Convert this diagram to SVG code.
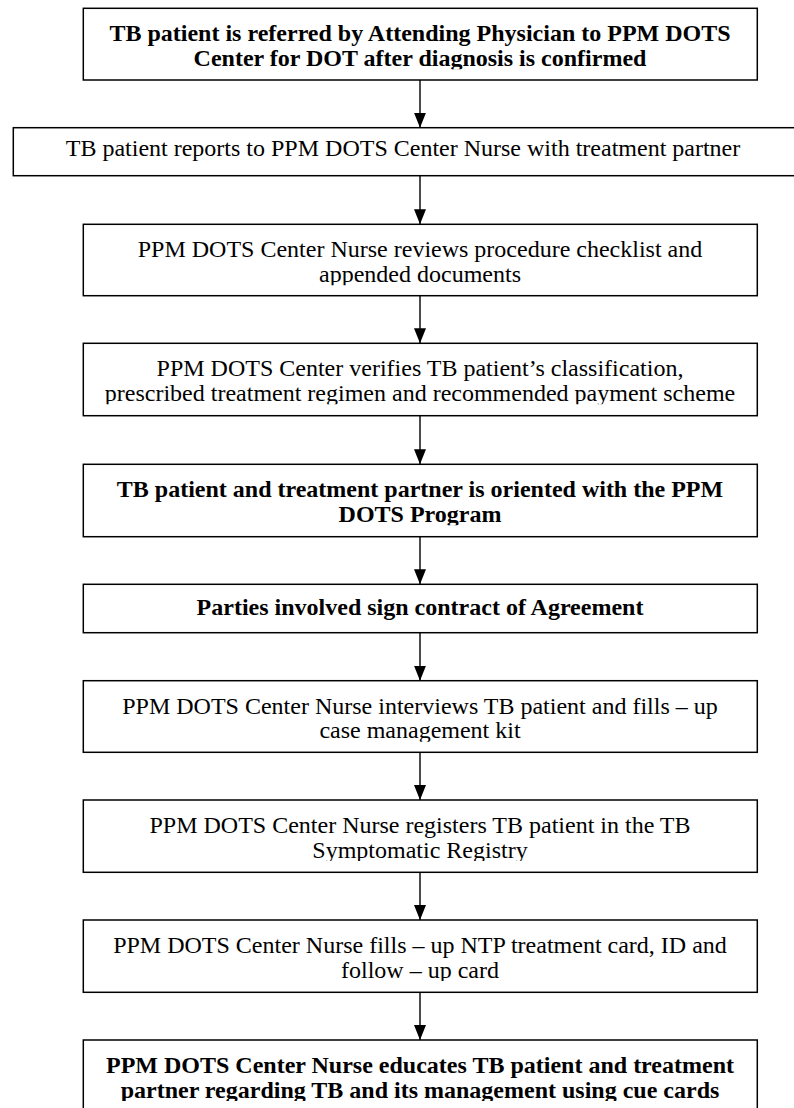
<svg xmlns="http://www.w3.org/2000/svg" width="794" height="1108" viewBox="0 0 794 1108">
<style>
.box{fill:#fff;stroke:#000;stroke-width:1.5}
.t{font-family:"Liberation Serif","Times New Roman",serif;font-size:24px;fill:#000;text-anchor:middle}
.b{font-weight:bold}
.c{stroke:#000;stroke-width:1.4;fill:none}
</style>
<defs>
<marker id="ah" markerUnits="userSpaceOnUse" markerWidth="16" markerHeight="13" refX="15" refY="6" orient="auto">
<path d="M0,0 L15,6 L0,12 z" fill="#000"/>
</marker>
<clipPath id="k1" clipPathUnits="userSpaceOnUse"><rect x="0" y="8" width="794" height="61.3"/></clipPath>
<clipPath id="k3" clipPathUnits="userSpaceOnUse"><rect x="0" y="224" width="794" height="61.3"/></clipPath>
<clipPath id="k4" clipPathUnits="userSpaceOnUse"><rect x="0" y="343" width="794" height="61.3"/></clipPath>
<clipPath id="k5" clipPathUnits="userSpaceOnUse"><rect x="0" y="464" width="794" height="61.3"/></clipPath>
<clipPath id="k6" clipPathUnits="userSpaceOnUse"><rect x="0" y="584" width="794" height="36"/></clipPath>
<clipPath id="k7" clipPathUnits="userSpaceOnUse"><rect x="0" y="680" width="794" height="61.7"/></clipPath>
<clipPath id="k8" clipPathUnits="userSpaceOnUse"><rect x="0" y="800" width="794" height="61"/></clipPath>
<clipPath id="k9" clipPathUnits="userSpaceOnUse"><rect x="0" y="920" width="794" height="61"/></clipPath>
<clipPath id="k10" clipPathUnits="userSpaceOnUse"><rect x="0" y="1040" width="794" height="61"/></clipPath>
</defs>
<rect x="0" y="0" width="794" height="1108" fill="#fff"/>

<g id="connectors">
<line class="c" x1="420" y1="80" x2="420" y2="127.7" marker-end="url(#ah)"/>
<line class="c" x1="420" y1="175.7" x2="420" y2="224.3" marker-end="url(#ah)"/>
<line class="c" x1="420" y1="295.7" x2="420" y2="343.3" marker-end="url(#ah)"/>
<line class="c" x1="420" y1="415.7" x2="420" y2="464.3" marker-end="url(#ah)"/>
<line class="c" x1="420" y1="536.7" x2="420" y2="584.3" marker-end="url(#ah)"/>
<line class="c" x1="420" y1="632.7" x2="420" y2="680.7" marker-end="url(#ah)"/>
<line class="c" x1="420" y1="752.3" x2="420" y2="800" marker-end="url(#ah)"/>
<line class="c" x1="420" y1="872.3" x2="420" y2="920" marker-end="url(#ah)"/>
<line class="c" x1="420" y1="992.3" x2="420" y2="1040" marker-end="url(#ah)"/>
</g>

<g id="n1">
<rect class="box" x="83.3" y="8.3" width="674" height="71.7"/>
<g clip-path="url(#k1)">
<text class="t b" x="420" y="41.3">TB patient is referred by Attending Physician to PPM DOTS</text>
<text class="t b" x="420" y="65.8">Center for DOT after diagnosis is confirmed</text>
</g>
</g>

<g id="n2">
<rect class="box" x="13.3" y="127.7" width="790" height="48"/>
<text class="t" x="403" y="156">TB patient reports to PPM DOTS Center Nurse with treatment partner</text>
</g>

<g id="n3">
<rect class="box" x="83.3" y="224.3" width="674" height="71.4"/>
<g clip-path="url(#k3)">
<text class="t" x="420" y="257.3">PPM DOTS Center Nurse reviews procedure checklist and</text>
<text class="t" x="420" y="281.8">appended documents</text>
</g>
</g>

<g id="n4">
<rect class="box" x="83.3" y="343.3" width="674" height="72.4"/>
<g clip-path="url(#k4)">
<text class="t" x="420" y="376.3">PPM DOTS Center verifies TB patient’s classification,</text>
<text class="t" x="420" y="400.8">prescribed treatment regimen and recommended payment scheme</text>
</g>
</g>

<g id="n5">
<rect class="box" x="83.3" y="464.3" width="674" height="72.4"/>
<g clip-path="url(#k5)">
<text class="t b" x="420" y="497.3">TB patient and treatment partner is oriented with the PPM</text>
<text class="t b" x="420" y="521.8">DOTS Program</text>
</g>
</g>

<g id="n6">
<rect class="box" x="83.3" y="584.3" width="674" height="48.4"/>
<g clip-path="url(#k6)">
<text class="t b" x="420" y="615">Parties involved sign contract of Agreement</text>
</g>
</g>

<g id="n7">
<rect class="box" x="83.3" y="680.7" width="674" height="71.6"/>
<g clip-path="url(#k7)">
<text class="t" x="420" y="713.7">PPM DOTS Center Nurse interviews TB patient and fills – up</text>
<text class="t" x="420" y="738.2">case management kit</text>
</g>
</g>

<g id="n8">
<rect class="box" x="83.3" y="800" width="674" height="72.3"/>
<g clip-path="url(#k8)">
<text class="t" x="420" y="833">PPM DOTS Center Nurse registers TB patient in the TB</text>
<text class="t" x="420" y="857.5">Symptomatic Registry</text>
</g>
</g>

<g id="n9">
<rect class="box" x="83.3" y="920" width="674" height="72.3"/>
<g clip-path="url(#k9)">
<text class="t" x="420" y="953">PPM DOTS Center Nurse fills – up NTP treatment card, ID and</text>
<text class="t" x="420" y="977.5">follow – up card</text>
</g>
</g>

<g id="n10">
<rect class="box" x="83.3" y="1040" width="674" height="72.3"/>
<g clip-path="url(#k10)">
<text class="t b" x="420" y="1073">PPM DOTS Center Nurse educates TB patient and treatment</text>
<text class="t b" x="420" y="1097.5">partner regarding TB and its management using cue cards</text>
</g>
</g>
</svg>
